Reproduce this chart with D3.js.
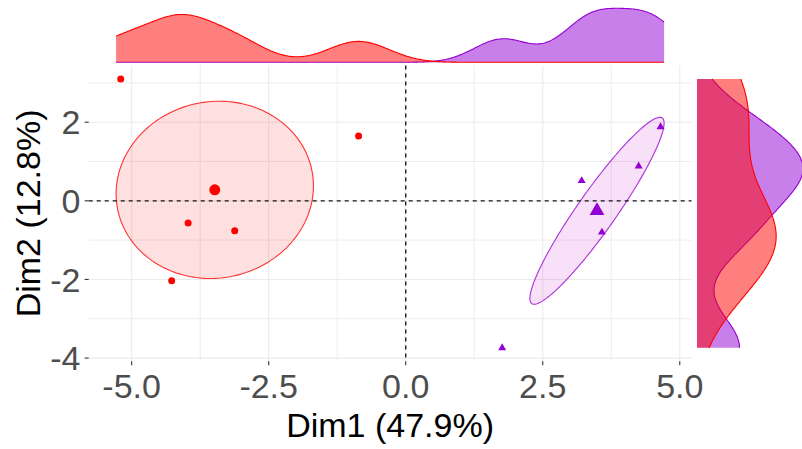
<!DOCTYPE html>
<html>
<head>
<meta charset="utf-8">
<script src="https://cdn.jsdelivr.net/npm/d3@7"></script>
<style>
  html, body { margin: 0; padding: 0; background: #fff; }
  svg { display: block; }
  text { font-family: "Liberation Sans", Arial, sans-serif; }
</style>
</head>
<body>
<svg id="chart" width="802" height="449"></svg>
<script>
// ---------------- data ----------------
const groups = ["Group 1", "Group 2"];
const groupColors = ["#FF0000", "#9400D3"];
const ellipseFill = ["#FF0000", "#D000D0"];
const group1X = [-5.20, -0.86, -3.97, -3.12, -4.27];
const group1Y = [3.10, 1.65, -0.565, -0.76, -2.03];
const group2X = [4.65, 4.25, 3.21, 3.58, 1.76];
const group2Y = [1.88, 0.88, 0.51, -0.80, -3.74];
const xTicks = [-5.0, -2.5, 0.0, 2.5, 5.0];
const xTickLabels = ["-5.0", "-2.5", "0.0", "2.5", "5.0"];
const yTicks = [-4, -2, 0, 2];
const yTickLabels = ["-4", "-2", "0", "2"];
const xMinor = [-3.75, -1.25, 1.25, 3.75];
const yMinor = [-3, -1, 1, 3];
const xTitle = "Dim1 (47.9%)";
const yTitle = "Dim2 (12.8%)";

// ---------------- helpers ----------------
const mean = a => d3.mean(a);
function cov(a, b) {
  const ma = mean(a), mb = mean(b);
  return d3.sum(a.map((v, i) => (v - ma) * (b[i] - mb))) / (a.length - 1);
}
function quantile7(arr, p) {
  const s = arr.slice().sort((x, y) => x - y);
  const h = (s.length - 1) * p, lo = Math.floor(h), hi = Math.ceil(h);
  return s[lo] + (h - lo) * (s[hi] - s[lo]);
}
function bwNrd0(a) {
  const hi = d3.deviation(a);
  const iqr = quantile7(a, 0.75) - quantile7(a, 0.25);
  const lo = Math.min(hi, iqr / 1.34);
  return 0.9 * lo * Math.pow(a.length, -0.2);
}
function kde(a, lo, hi, n) {
  const bw = bwNrd0(a);
  const c = 1 / (a.length * bw * Math.sqrt(2 * Math.PI));
  const out = [];
  for (let i = 0; i < n; i++) {
    const x = lo + (hi - lo) * i / (n - 1);
    let s = 0;
    for (const v of a) { const z = (x - v) / bw; s += Math.exp(-0.5 * z * z); }
    out.push([x, s * c]);
  }
  return out;
}
// confidence ellipse of the barycentre (level 0.95)
function confEllipse(xs, ys) {
  const n = xs.length;
  const cx = mean(xs), cy = mean(ys);
  const sxx = cov(xs, xs) / n, syy = cov(ys, ys) / n, sxy = cov(xs, ys) / n;
  const t = Math.sqrt(5.991464547);
  const l11 = Math.sqrt(sxx), l21 = sxy / l11, l22 = Math.sqrt(syy - l21 * l21);
  const pts = [];
  for (let i = 0; i < 200; i++) {
    const a = 2 * Math.PI * i / 200;
    const u = Math.cos(a), v = Math.sin(a);
    pts.push([cx + t * (l11 * u), cy + t * (l21 * u + l22 * v)]);
  }
  return pts;
}

const gX = [group1X, group2X], gY = [group1Y, group2Y];
const ellipses = [0, 1].map(i => confEllipse(gX[i], gY[i]));
const means = [0, 1].map(i => [mean(gX[i]), mean(gY[i])]);

const allX = [...group1X, ...group2X, ...ellipses.flat().map(p => p[0])];
const allY = [...group1Y, ...group2Y, ...ellipses.flat().map(p => p[1])];
const [xmin, xmax] = d3.extent(allX);
const [ymin, ymax] = d3.extent(allY);
const ex = (xmax - xmin) * 0.05, ey = (ymax - ymin) * 0.05;

// ---------------- layout ----------------
const panel = { left: 88.7, right: 691.5, top: 65.5, bottom: 361.3 };
const topMarg = { base: 62.3, peak: 8.3 };
const rightMarg = { base: 697, peak: 803 };

const x = d3.scaleLinear().domain([xmin - ex, xmax + ex]).range([panel.left, panel.right]);
const y = d3.scaleLinear().domain([ymin - ey, ymax + ey]).range([panel.bottom, panel.top]);

const svg = d3.select("#chart");

// ---------------- grid ----------------
const grid = svg.append("g");
grid.selectAll(".gxm").data(xMinor).join("line")
  .attr("x1", d => x(d)).attr("x2", d => x(d))
  .attr("y1", panel.top).attr("y2", panel.bottom)
  .attr("stroke", "#EDEDED").attr("stroke-width", 1);
grid.selectAll(".gym").data(yMinor).join("line")
  .attr("x1", panel.left).attr("x2", panel.right)
  .attr("y1", d => y(d)).attr("y2", d => y(d))
  .attr("stroke", "#EDEDED").attr("stroke-width", 1);
grid.selectAll(".gx").data(xTicks).join("line")
  .attr("x1", d => x(d)).attr("x2", d => x(d))
  .attr("y1", panel.top).attr("y2", panel.bottom)
  .attr("stroke", "#EBEBEB").attr("stroke-width", 1.1);
grid.selectAll(".gy").data(yTicks).join("line")
  .attr("x1", panel.left).attr("x2", panel.right)
  .attr("y1", d => y(d)).attr("y2", d => y(d))
  .attr("stroke", "#EBEBEB").attr("stroke-width", 1.1);

// ---------------- ellipses ----------------
const line = d3.line().x(p => x(p[0])).y(p => y(p[1])).curve(d3.curveLinearClosed);
[0, 1].forEach(i => {
  svg.append("path").attr("d", line(ellipses[i]))
    .attr("fill", ellipseFill[i]).attr("fill-opacity", 0.12)
    .attr("stroke", groupColors[i]).attr("stroke-opacity", 0.8).attr("stroke-width", 1.1);
});

// ---------------- reference lines ----------------
svg.append("line").attr("x1", x(0)).attr("x2", x(0)).attr("y1", panel.top).attr("y2", panel.bottom)
  .attr("stroke", "#111").attr("stroke-width", 1.3).attr("stroke-dasharray", "4,4");
svg.append("line").attr("x1", panel.left).attr("x2", panel.right).attr("y1", y(0)).attr("y2", y(0))
  .attr("stroke", "#111").attr("stroke-width", 1.3).attr("stroke-dasharray", "4,4");

// ---------------- points ----------------
svg.append("g").selectAll("circle").data(group1X.map((v, i) => [v, group1Y[i]])).join("circle")
  .attr("cx", d => x(d[0])).attr("cy", d => y(d[1])).attr("r", 3.5).attr("fill", groupColors[0]);
const triSmall = d3.symbol().type(d3.symbolTriangle).size(28);
const triBig = d3.symbol().type(d3.symbolTriangle).size(95);
svg.append("g").selectAll("path").data(group2X.map((v, i) => [v, group2Y[i]])).join("path")
  .attr("d", triSmall).attr("transform", d => `translate(${x(d[0])},${y(d[1])})`)
  .attr("fill", groupColors[1]);
svg.append("circle").attr("cx", x(means[0][0])).attr("cy", y(means[0][1])).attr("r", 5.5).attr("fill", groupColors[0]);
svg.append("path").attr("d", triBig).attr("transform", `translate(${x(means[1][0])},${y(means[1][1])})`)
  .attr("fill", groupColors[1]);

// ---------------- axes ----------------
const axisG = svg.append("g");
axisG.selectAll(".xt").data(xTicks).join("line")
  .attr("x1", d => x(d)).attr("x2", d => x(d)).attr("y1", panel.bottom).attr("y2", panel.bottom + 4)
  .attr("stroke", "#333").attr("stroke-width", 1.1);
axisG.selectAll(".xl").data(xTicks).join("text")
  .attr("x", d => x(d)).attr("y", 398.3).attr("text-anchor", "middle")
  .attr("font-size", 34).attr("fill", "#4D4D4D").text((d, i) => xTickLabels[i]);
axisG.selectAll(".yt").data(yTicks).join("line")
  .attr("x1", panel.left - 4).attr("x2", panel.left).attr("y1", d => y(d)).attr("y2", d => y(d))
  .attr("stroke", "#333").attr("stroke-width", 1.1);
axisG.selectAll(".yl").data(yTicks).join("text")
  .attr("x", 80.5).attr("y", d => y(d)).attr("dy", "0.36em").attr("text-anchor", "end")
  .attr("font-size", 34).attr("fill", "#4D4D4D").text((d, i) => yTickLabels[i]);
svg.append("text").attr("x", (panel.left + panel.right) / 2).attr("y", 436.7)
  .attr("text-anchor", "middle").attr("font-size", 34).attr("fill", "#000").text(xTitle);
svg.append("text").attr("transform", `translate(40,${(panel.top + panel.bottom) / 2}) rotate(-90)`)
  .attr("text-anchor", "middle").attr("font-size", 34).attr("fill", "#000").text(yTitle);

// ---------------- marginal densities ----------------
const topD = [0, 1].map(i => kde(gX[i], xmin, xmax, 512));
const rightD = [0, 1].map(i => kde(gY[i], ymin, ymax, 512));
const dTop = d3.scaleLinear().domain([0, d3.max(topD.flat(), d => d[1])]).range([topMarg.base, topMarg.peak]);
const dRight = d3.scaleLinear().domain([0, d3.max(rightD.flat(), d => d[1])]).range([rightMarg.base, rightMarg.peak]);

const order = [1, 0]; // purple below, red on top
order.forEach(i => {
  const areaT = d3.area().x(d => x(d[0])).y0(dTop(0)).y1(d => dTop(d[1]));
  const lineT = d3.line().x(d => x(d[0])).y(d => dTop(d[1]));
  svg.append("path").attr("d", areaT(topD[i])).attr("fill", groupColors[i]).attr("fill-opacity", 0.5);
  svg.append("path").attr("d", lineT(topD[i])).attr("fill", "none").attr("stroke", groupColors[i]).attr("stroke-width", 1.1);
});
order.forEach(i => {
  const areaR = d3.area().y(d => y(d[0])).x0(dRight(0)).x1(d => dRight(d[1]));
  const lineR = d3.line().y(d => y(d[0])).x(d => dRight(d[1]));
  svg.append("path").attr("d", areaR(rightD[i])).attr("fill", groupColors[i]).attr("fill-opacity", 0.5);
  svg.append("path").attr("d", lineR(rightD[i])).attr("fill", "none").attr("stroke", groupColors[i]).attr("stroke-width", 1.1);
});
</script>
</body>
</html>
